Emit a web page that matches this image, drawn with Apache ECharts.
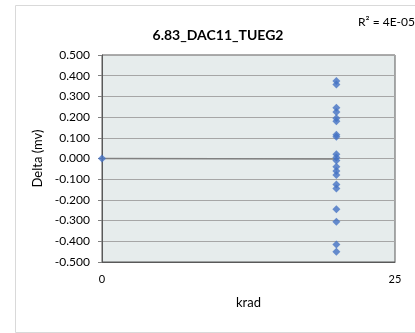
<!DOCTYPE html>
<html>
<head>
<meta charset="utf-8">
<script src="https://cdn.jsdelivr.net/npm/echarts@6/dist/echarts.min.js"></script>
<style>
html,body{margin:0;padding:0;background:#fff;}
#c{width:415px;height:333px;}
</style>
</head>
<body>
<div id="c"></div>
<script>
const chartTitle = '6.83_DAC11_TUEG2';
const r2Label = 'R² = 4E-05';
const xName = 'krad';
const yName = 'Delta (mv)';
const xValues = [0, 20, 20, 20, 20, 20, 20, 20, 20, 20, 20, 20, 20, 20, 20, 20, 20, 20, 20, 20, 20];
const yValues = [0.000, 0.375, 0.358, 0.245, 0.225, 0.195, 0.180, 0.115, 0.105, 0.020, 0.005,
                 -0.010, -0.040, -0.060, -0.080, -0.125, -0.145, -0.245, -0.305, -0.415, -0.450];
const xTicks = [0, 25];

// linear least-squares trendline over the data
const n = xValues.length;
const mx = xValues.reduce((a,b)=>a+b,0)/n;
const my = yValues.reduce((a,b)=>a+b,0)/n;
let sxy = 0, sxx = 0;
for (let i=0;i<n;i++){ sxy += (xValues[i]-mx)*(yValues[i]-my); sxx += (xValues[i]-mx)**2; }
const slope = sxy/sxx, icpt = my - slope*mx;
const xMinData = Math.min(...xValues), xMaxData = Math.max(...xValues);
const trend = [[xMinData, icpt + slope*xMinData],[xMaxData, icpt + slope*xMaxData]];

const pts = xValues.map((x,i)=>[x, yValues[i]]);
const font = 'Lato, "Open Sans", sans-serif';

const chart = echarts.init(document.getElementById('c'));
chart.setOption({
  animation: false,
  textStyle: {fontFamily: font},
  graphic: [{
    type: 'rect', left: 13, top: 3, z: -10,
    shape: {width: 410, height: 327},
    style: {fill: 'none', stroke: '#d9d9d9', lineWidth: 1}
  }],
  title: [
    {text: chartTitle, left: 213, top: 23, textAlign: 'center',
     textStyle: {fontSize: 14, fontWeight: 'bold', color: '#000', fontFamily: font}},
    {text: r2Label, right: 0, top: 16, padding: 0,
     textStyle: {fontSize: 12, fontWeight: 'normal', color: '#000', fontFamily: font}}
  ],
  grid: {left: 102, right: 20, top: 55, bottom: 71, show: true,
         backgroundColor: '#e6ecec', borderColor: '#595959', borderWidth: 1},
  xAxis: {
    type: 'value', min: 0, max: 25, interval: 25,
    name: xName, nameLocation: 'middle', nameGap: 34,
    nameTextStyle: {fontSize: 13, color: '#000', fontFamily: font},
    axisLine: {show: true, onZero: false, lineStyle: {color: '#595959', width: 1}},
    axisTick: {show: false},
    splitLine: {show: false},
    axisLabel: {fontSize: 11, color: '#000', margin: 12, fontFamily: font,
      formatter: v => xTicks.includes(v) ? String(v) : ''}
  },
  yAxis: {
    type: 'value', min: -0.5, max: 0.5, interval: 0.1,
    name: yName, nameLocation: 'middle', nameGap: 55, nameRotate: 90,
    nameTextStyle: {fontSize: 13, color: '#000', fontFamily: font},
    axisLine: {show: true, onZero: false, lineStyle: {color: '#595959', width: 1}},
    axisTick: {show: true, inside: false, length: 4, lineStyle: {color: '#808080'}},
    splitLine: {show: true, lineStyle: {color: '#a6a6a6', width: 1}},
    axisLabel: {fontSize: 12, color: '#000', margin: 12, fontFamily: font,
      formatter: v => v.toFixed(3)}
  },
  series: [
    {type: 'line', data: trend, showSymbol: false, symbol: 'none',
     lineStyle: {color: '#808080', width: 1.5}, z: 2, silent: true},
    {type: 'scatter', data: pts, symbol: 'diamond', symbolSize: 8,
     itemStyle: {color: '#4472c4'}, z: 3}
  ]
});
</script>
</body>
</html>
